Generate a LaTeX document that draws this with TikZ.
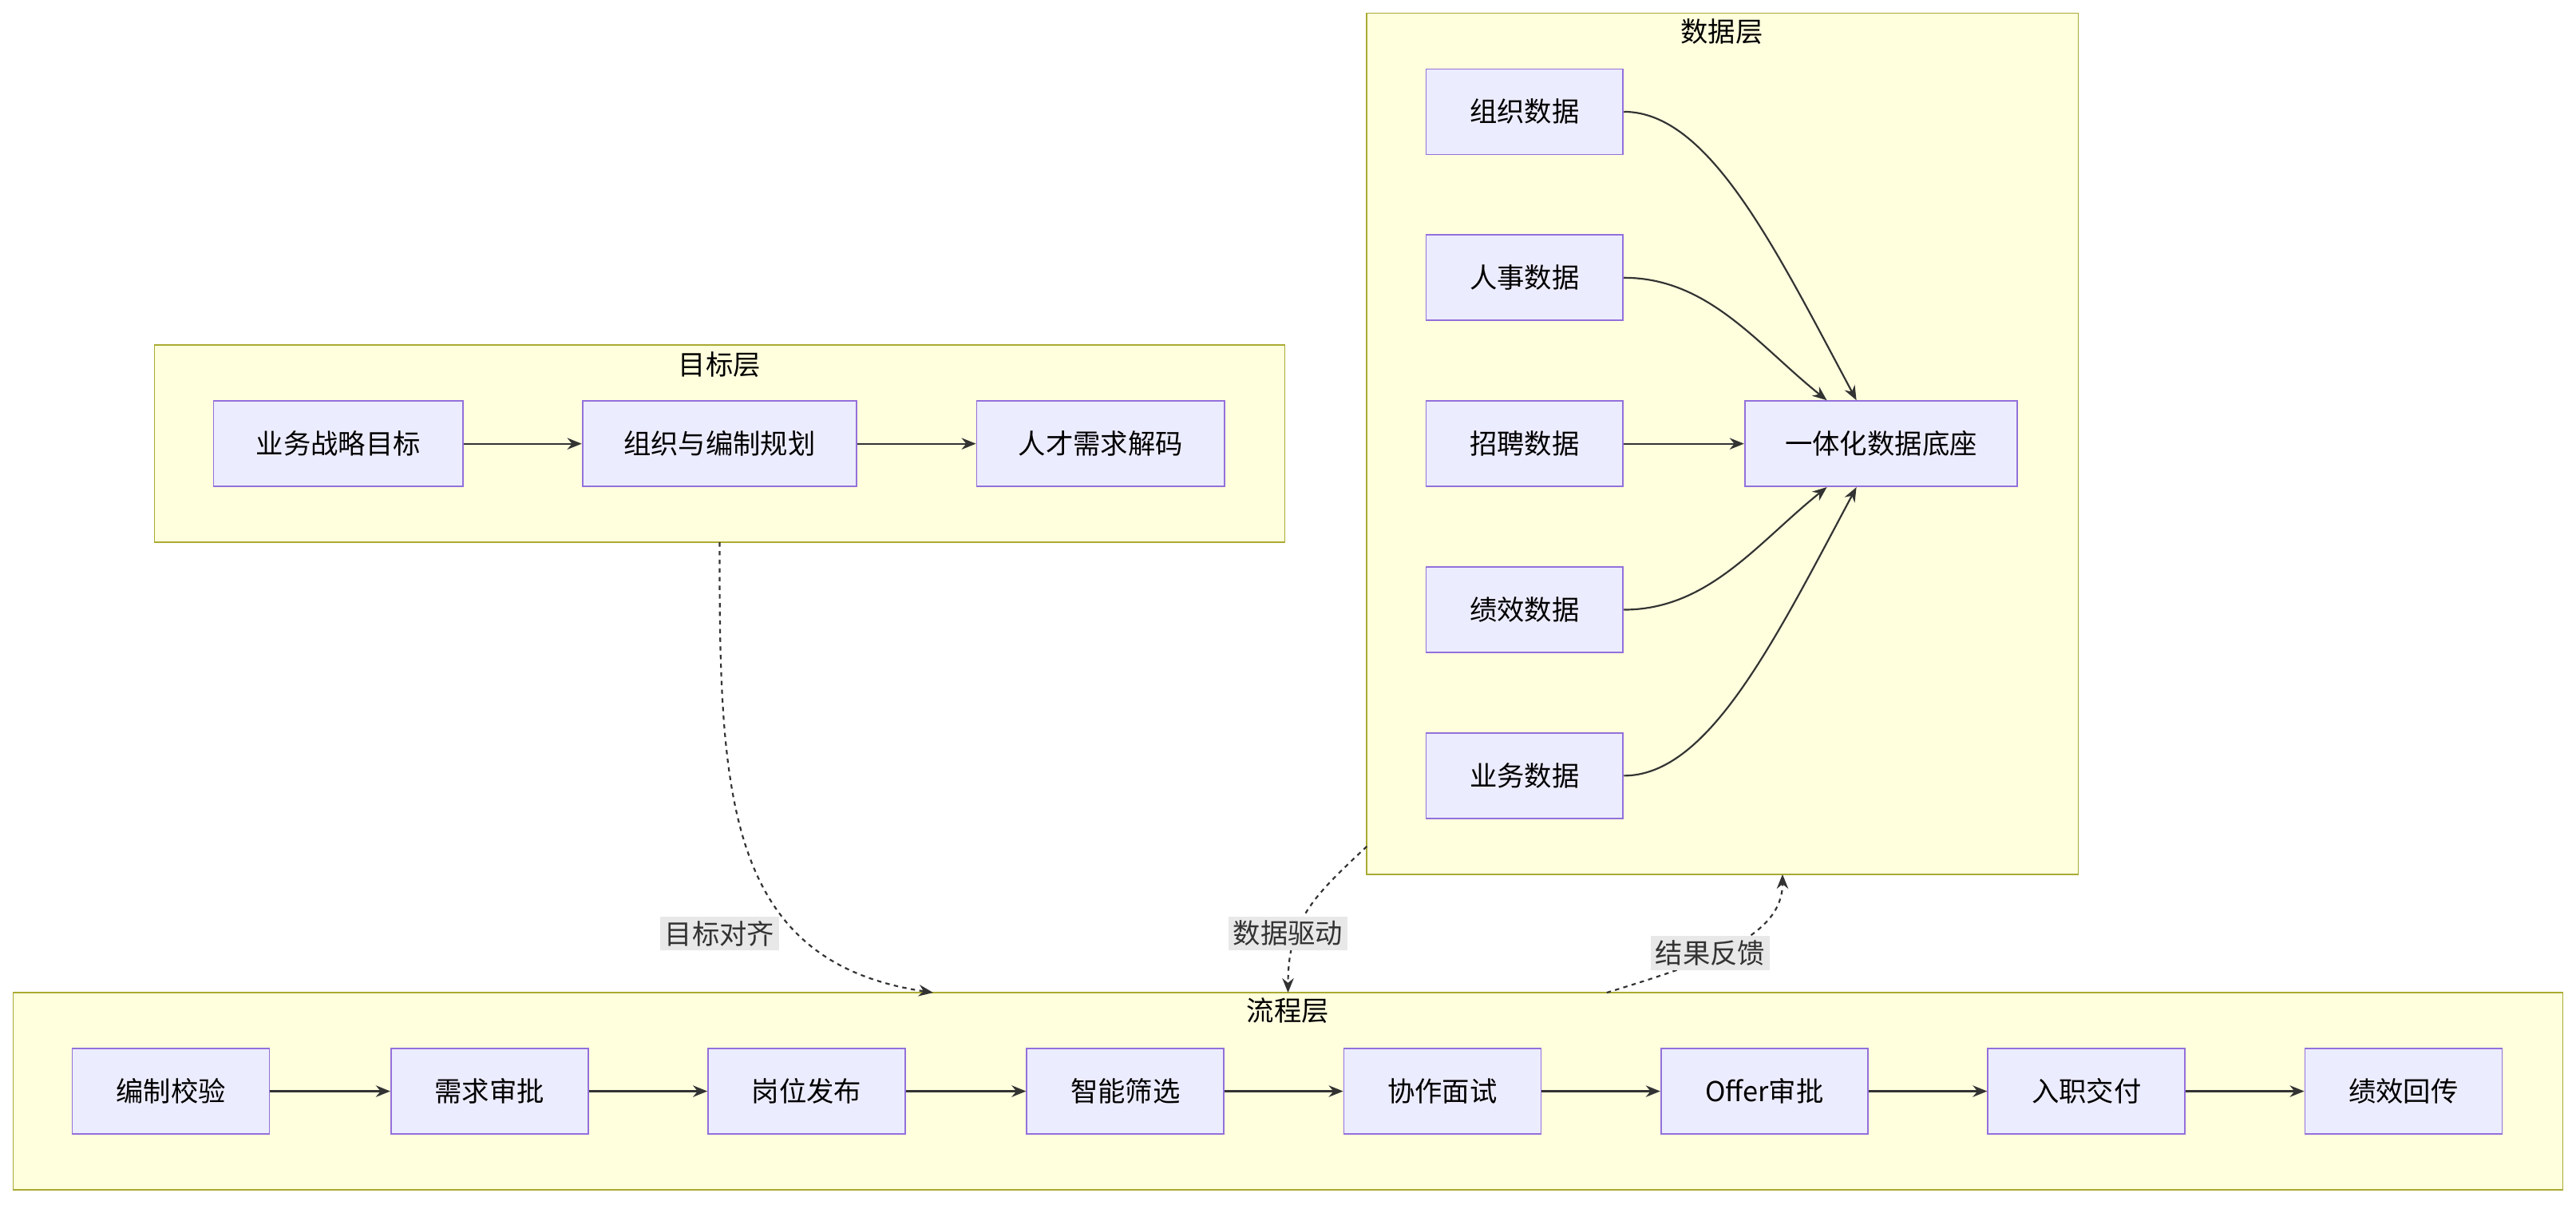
\documentclass[tikz,border=0pt]{standalone}
\usepackage{fontspec}
\setmainfont{Noto Sans CJK SC}
\usetikzlibrary{arrows.meta}
\definecolor{nfill}{HTML}{ECECFF}\definecolor{nstroke}{HTML}{9370DB}
\definecolor{cfill}{HTML}{FFFFDE}\definecolor{cstroke}{HTML}{AAAA33}
\definecolor{edge}{HTML}{333333}\definecolor{lbl}{HTML}{E8E8E8}
\begin{document}
\begin{tikzpicture}[x=0.02cm,y=-0.02cm,font=\fontsize{9.5}{11}\selectfont,
 nd/.style={draw=nstroke,fill=nfill,line width=0.5pt,minimum height=1.04cm,inner sep=0pt},
 cl/.style={draw=cstroke,fill=cfill,line width=0.5pt},
 ar/.style={draw=edge,line width=0.6pt,-{Stealth[length=5pt,width=4pt]}},
 dar/.style={ar,dash pattern=on 1.5pt off 1.5pt},
 lb/.style={fill=lbl,inner sep=1.5pt,text=edge}]
\useasboundingbox (0,0) rectangle (1568,733);
% clusters
\draw[cl] (94,210) rectangle (782,330); \node (tt) at (438,222) {目标层};
\draw[cl] (832,8) rectangle (1265,532); \node (dt) at (1048,19) {数据层};
\draw[cl] (8,604) rectangle (1560,724); \node (ft) at (784,615) {流程层};
\coordinate (tcb) at (438,330); \coordinate (fin1) at (568,604);
\coordinate (dcl) at (832,515); \coordinate (fin2) at (784,604);
\coordinate (fout) at (978,604); \coordinate (dcb) at (1085,532);
% target nodes
\node[nd,minimum width=3.04cm] (a1) at (206,270) {业务战略目标};
\node[nd,minimum width=3.34cm] (a2) at (438,270) {组织与编制规划};
\node[nd,minimum width=3.02cm] (a3) at (670,270) {人才需求解码};
\draw[ar] (a1)--(a2); \draw[ar] (a2)--(a3);
% data nodes
\node[nd,minimum width=2.4cm] (d1) at (928,68) {组织数据};
\node[nd,minimum width=2.4cm] (d2) at (928,169) {人事数据};
\node[nd,minimum width=2.4cm] (d3) at (928,270) {招聘数据};
\node[nd,minimum width=2.4cm] (d4) at (928,371) {绩效数据};
\node[nd,minimum width=2.4cm] (d5) at (928,472) {业务数据};
\node[nd,minimum width=3.32cm] (dc) at (1145,270) {一体化数据底座};
\draw[ar] (d1.east) .. controls (1040,68) and (1080,150) .. ([xshift=-0.3cm]dc.north);
\draw[ar] (d2.east) .. controls (1040,169) and (1070,210) .. ([xshift=-0.66cm]dc.north);
\draw[ar] (d3)--(dc);
\draw[ar] (d4.east) .. controls (1040,371) and (1070,330) .. ([xshift=-0.66cm]dc.south);
\draw[ar] (d5.east) .. controls (1040,472) and (1080,390) .. ([xshift=-0.3cm]dc.south);
% flow nodes
\node[nd,minimum width=2.4cm] (f1) at (104,664) {编制校验};
\node[nd,minimum width=2.4cm] (f2) at (298,664) {需求审批};
\node[nd,minimum width=2.4cm] (f3) at (491,664) {岗位发布};
\node[nd,minimum width=2.4cm] (f4) at (685,664) {智能筛选};
\node[nd,minimum width=2.4cm] (f5) at (878,664) {协作面试};
\node[nd,minimum width=2.52cm] (f6) at (1074,664) {Offer审批};
\node[nd,minimum width=2.4cm] (f7) at (1270,664) {入职交付};
\node[nd,minimum width=2.4cm] (f8) at (1463,664) {绩效回传};
\foreach \a/\b in {f1/f2,f2/f3,f3/f4,f4/f5,f5/f6,f6/f7,f7/f8}\draw[ar] (\a)--(\b);
% cross edges
\draw[dar] (tcb) .. controls (438,480) and (440,585) .. (fin1);
\node[lb] (l1) at (438,568) {目标对齐};
\draw[dar] (dcl) .. controls (800,545) and (784,560) .. (fin2);
\node[lb] (l2) at (784,568) {数据驱动};
\draw[dar] (fout) .. controls (1040,585) and (1085,570) .. (dcb);
\node[lb] (l3) at (1041,580) {结果反馈};
\end{tikzpicture}
\end{document}
